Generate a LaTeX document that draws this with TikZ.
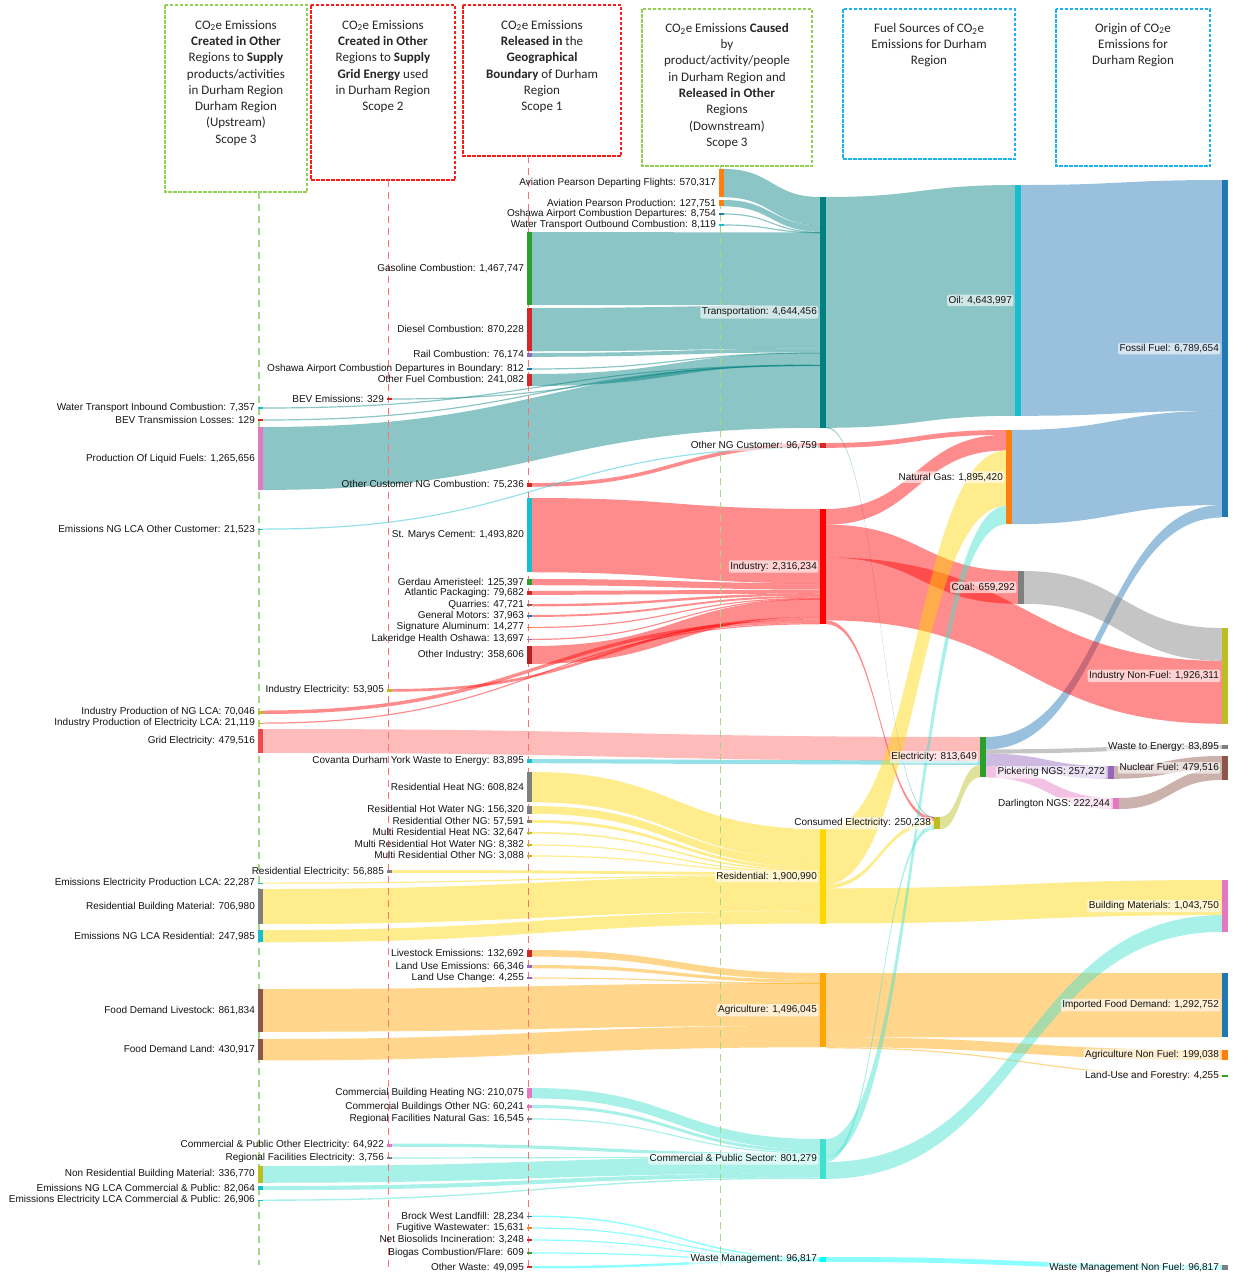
\documentclass[tikz,border=0pt]{standalone}
\usepackage{fontspec}
\setmainfont{Liberation Sans}
\newfontfamily\hdrfont{Carlito}
\definecolor{cTeal}{HTML}{008080}
\definecolor{cBlue}{HTML}{1F77B4}
\definecolor{cOrange}{HTML}{FF7F0E}
\definecolor{cGreen}{HTML}{2CA02C}
\definecolor{cRed}{HTML}{D62728}
\definecolor{cPurple}{HTML}{9467BD}
\definecolor{cBrown}{HTML}{8C564B}
\definecolor{cPink}{HTML}{E377C2}
\definecolor{cGray}{HTML}{7F7F7F}
\definecolor{cOlive}{HTML}{BCBD22}
\definecolor{cCyan}{HTML}{17BECF}
\definecolor{cInd}{HTML}{FF0000}
\definecolor{cRes}{HTML}{FFD700}
\definecolor{cAgr}{HTML}{FFA500}
\definecolor{cCom}{HTML}{40E0D0}
\definecolor{cWst}{HTML}{00FFFF}
\definecolor{cGrid}{HTML}{EF4A4A}
\definecolor{bGreen}{HTML}{92D050}
\definecolor{bRed}{HTML}{FF1A1A}
\definecolor{bBlue}{HTML}{1AB4F0}
\definecolor{dGreen}{HTML}{A6D785}
\definecolor{dRed}{HTML}{FF7070}
\newcommand\lnk[6]{\fill[#6] (#1,#2) .. controls ({(#1+#3)/2},#2) and ({(#1+#3)/2},#4) .. (#3,#4) -- (#3,{#4+#5}) .. controls ({(#1+#3)/2},{#4+#5}) and ({(#1+#3)/2},{#2+#5}) .. (#1,{#2+#5}) -- cycle;}
\newcommand\snode[7][slbl]{\node[sbar, fill=#6, minimum height=#5pt, label={[#1]left:{#7}}] (#2) at (#3,{#4+#5/2}) {};}
\begin{document}
\begin{tikzpicture}[x=1pt,y=-1pt,
  label distance=1.5pt,
  sbar/.style={rectangle, inner sep=0pt, minimum width=5.5pt, draw=none},
  slbl/.style={font=\fontsize{10}{12}\selectfont, text=black!92, inner sep=1pt},
  blbl/.style={slbl, fill=white, fill opacity=.6, text opacity=1, rounded corners=2pt, inner sep=1.5pt},
  htxt/.style={anchor=north, align=center, font=\hdrfont\fontsize{13}{16.3}\selectfont, inner sep=0pt, text=black!85},
  hbox/.style={draw=#1, line width=1.3pt, dash pattern=on 3.5pt off 1.5pt},
  vdash/.style={draw=#1, line width=1.3pt, dash pattern=on 7pt off 5pt},
  Ltr/.style={fill=cTeal, fill opacity=.45},
  Lind/.style={fill=cInd, fill opacity=.45},
  Lgrd/.style={fill=cInd, fill opacity=.27},
  Lres/.style={fill=cRes, fill opacity=.45},
  Lagr/.style={fill=cAgr, fill opacity=.45},
  Lcom/.style={fill=cCom, fill opacity=.45},
  Lwst/.style={fill=cWst, fill opacity=.45},
  Llca/.style={fill=cCyan, fill opacity=.45},
  Lff/.style={fill=cBlue, fill opacity=.45},
  Lcl/.style={fill=cGray, fill opacity=.45},
  Lolv/.style={fill=cOlive, fill opacity=.45},
  Lpur/.style={fill=cPurple, fill opacity=.45},
  Lpnk/.style={fill=cPink, fill opacity=.45},
  Lbrn/.style={fill=cBrown, fill opacity=.45}]
\fill[white] (0,0) rectangle (1233,1277);
\path[use as bounding box] (0,0) rectangle (1233,1277);

% ---------------- links ----------------
% Transportation inflows
\lnk{724}{169}{820}{197}{28.3}{Ltr}
\lnk{724}{200}{820}{225.3}{6.35}{Ltr}
\lnk{724}{213.4}{820}{231.7}{1.2}{Ltr}
\lnk{724}{224.4}{820}{232.1}{1.2}{Ltr}
\lnk{532}{232}{820}{232.5}{72.9}{Ltr}
\lnk{532}{308}{820}{305.4}{43.25}{Ltr}
\lnk{532}{353}{820}{348.6}{3.79}{Ltr}
\lnk{532}{368.4}{820}{352.4}{1.2}{Ltr}
\lnk{532}{374}{820}{352.5}{11.98}{Ltr}
\lnk{392}{398.4}{820}{364.5}{1.2}{Ltr}
\lnk{263}{407.4}{820}{364.5}{1.2}{Ltr}
\lnk{263}{419.4}{820}{364.9}{1.2}{Ltr}
\lnk{263}{427}{820}{364.9}{62.9}{Ltr}
% Transportation outflows
\lnk{826}{197}{1015}{185}{230.8}{Ltr}
\lnk{826}{427}{934}{817}{1.1}{Ltr}
% Fossil fuel
\lnk{1021}{185}{1222}{180}{230.8}{Lff}
\lnk{1012}{430}{1222}{410.8}{94.2}{Lff}
\lnk{986}{737}{1222}{505}{12.44}{Lff}
% Other NG customer
\lnk{532}{483}{820}{443}{3.74}{Lind}
\lnk{263}{528.5}{820}{446.7}{1.2}{Llca}
\lnk{826}{443}{1006}{430}{4.81}{Lind}
% Industry inflows
\lnk{532}{498}{820}{509}{74.24}{Lind}
\lnk{532}{579}{820}{583.2}{6.23}{Lind}
\lnk{532}{591}{820}{589.5}{3.96}{Lind}
\lnk{532}{604}{820}{593.4}{2.37}{Lind}
\lnk{532}{615}{820}{595.8}{1.89}{Lind}
\lnk{532}{626.8}{820}{597.7}{1.2}{Lind}
\lnk{532}{638.8}{820}{598.4}{1.2}{Lind}
\lnk{532}{646}{820}{599.1}{17.82}{Lind}
\lnk{392}{689}{820}{616.9}{2.68}{Lind}
\lnk{263}{710.5}{820}{619.6}{3.48}{Lind}
\lnk{263}{722.5}{820}{623.1}{1.2}{Lind}
% Industry outflows
\lnk{826}{509}{1006}{434.8}{15.65}{Lind}
\lnk{826}{524.7}{1018}{571}{32.77}{Lind}
\lnk{826}{557.4}{1222}{660.8}{62.97}{Lind}
\lnk{826}{620.4}{934}{817.1}{3.73}{Lind}
% Coal
\lnk{1024}{571}{1222}{628}{32.77}{Lcl}
% Electricity inflows
\lnk{263}{729}{980}{737}{23.83}{Lgrd}
\lnk{532}{759}{980}{760.8}{4.17}{Llca}
\lnk{940}{817}{980}{765}{12.44}{Lolv}
% Electricity outflows
\lnk{986}{749.4}{1222}{745}{4.17}{Lcl}
\lnk{986}{753.6}{1108}{766}{12.79}{Lpur}
\lnk{986}{766.4}{1113}{798}{11.05}{Lpnk}
\lnk{1114}{766}{1222}{756}{12.79}{Lbrn}
\lnk{1119}{798}{1222}{768.8}{11.05}{Lbrn}
% Residential inflows
\lnk{532}{772}{820}{829}{30.26}{Lres}
\lnk{532}{806}{820}{859.3}{7.77}{Lres}
\lnk{532}{820}{820}{867.1}{2.86}{Lres}
\lnk{532}{832}{820}{869.9}{1.62}{Lres}
\lnk{532}{844.4}{820}{871.5}{1.2}{Lres}
\lnk{532}{855.4}{820}{871.9}{1.2}{Lres}
\lnk{392}{870}{820}{872.1}{2.83}{Lres}
\lnk{263}{882.5}{820}{874.9}{1.2}{Lres}
\lnk{263}{889}{820}{876}{35.14}{Lres}
\lnk{263}{930}{820}{911.2}{12.32}{Lres}
% Residential outflows
\lnk{826}{829}{1006}{450.5}{55.41}{Lres}
\lnk{826}{884.4}{934}{820.8}{3.93}{Lres}
\lnk{826}{888.3}{1222}{880}{35.14}{Lres}
% Agriculture
\lnk{532}{950}{820}{973}{6.59}{Lagr}
\lnk{532}{965}{820}{979.6}{3.30}{Lagr}
\lnk{532}{977.4}{820}{982.9}{1.2}{Lagr}
\lnk{263}{989}{820}{983.1}{42.83}{Lagr}
\lnk{263}{1039}{820}{1025.9}{21.42}{Lagr}
\lnk{826}{973}{1222}{973}{64.25}{Lagr}
\lnk{826}{1037.3}{1222}{1050}{9.89}{Lagr}
\lnk{826}{1047.2}{1222}{1075.4}{1.2}{Lagr}
% Commercial
\lnk{532}{1088}{820}{1139}{10.44}{Lcom}
\lnk{532}{1105}{820}{1149.4}{2.99}{Lcom}
\lnk{532}{1118.4}{820}{1152.4}{1.2}{Lcom}
\lnk{392}{1143.5}{820}{1153.2}{3.23}{Lcom}
\lnk{392}{1157.4}{820}{1156.5}{1.2}{Lcom}
\lnk{263}{1166}{820}{1156.7}{16.74}{Lcom}
\lnk{263}{1186}{820}{1173.4}{4.08}{Lcom}
\lnk{263}{1199.5}{820}{1177.5}{1.34}{Lcom}
\lnk{826}{1139}{1006}{505.9}{18.34}{Lcom}
\lnk{826}{1157.3}{934}{824.7}{4.75}{Lcom}
\lnk{826}{1162.1}{1222}{915.1}{16.74}{Lcom}
% Waste
\lnk{532}{1215.5}{820}{1257}{1.4}{Lwst}
\lnk{532}{1227.4}{820}{1258.4}{1.2}{Lwst}
\lnk{532}{1239.4}{820}{1259.2}{1.2}{Lwst}
\lnk{532}{1252.4}{820}{1259.4}{1.2}{Lwst}
\lnk{532}{1266}{820}{1259.4}{2.44}{Lwst}
\lnk{826}{1257}{1222}{1265}{4.81}{Lwst}

% ---------------- header boxes ----------------
\draw[hbox=bGreen] (165,5) rectangle (307,192);
\draw[hbox=bRed] (311,5) rectangle (455,180);
\draw[hbox=bRed] (463,5) rectangle (621,156);
\draw[hbox=bGreen] (642,9) rectangle (812,166);
\draw[hbox=bBlue] (843,9) rectangle (1015,159);
\draw[hbox=bBlue] (1056,9) rectangle (1210,166);
\node[htxt] (h1) at (236,20) {CO\textsubscript{2}e Emissions\\\textbf{Created in Other}\\Regions to \textbf{Supply}\\products/activities\\in Durham Region\\Durham Region\\(Upstream)\\Scope 3};
\node[htxt] (h2) at (383,20) {CO\textsubscript{2}e Emissions\\\textbf{Created in Other}\\Regions to \textbf{Supply}\\\textbf{Grid Energy} used\\in Durham Region\\Scope 2};
\node[htxt] (h3) at (542,20) {CO\textsubscript{2}e Emissions\\\textbf{Released in} the\\\textbf{Geographical}\\\textbf{Boundary} of Durham\\Region\\Scope 1};
\node[htxt] (h4) at (727,23) {CO\textsubscript{2}e Emissions \textbf{Caused}\\by\\product/activity/people\\in Durham Region and\\\textbf{Released in Other}\\Regions\\(Downstream)\\Scope 3};
\node[htxt] (h5) at (929,23) {Fuel Sources of CO\textsubscript{2}e\\Emissions for Durham\\Region};
\node[htxt] (h6) at (1133,23) {Origin of CO\textsubscript{2}e\\Emissions for\\Durham Region};

% dashed guide lines
\draw[vdash=dGreen] (259,192) -- (259,1265);
\draw[vdash=dRed] (388.5,180) -- (388.5,1270);
\draw[vdash=dRed] (528.5,156) -- (528.5,1270);
\draw[vdash=dGreen] (720.5,166) -- (720.5,1265);

% ---------------- nodes ----------------
% column A
\snode{watin}{260.5}{407.4}{1.2}{cCyan}{Water Transport Inbound Combustion: 7,357}
\snode{bevtl}{260.5}{419.4}{1.2}{cRed}{BEV Transmission Losses: 129}
\snode{plf}{260.5}{427}{62.9}{cPink}{Production Of Liquid Fuels: 1,265,656}
\snode{nglcaoc}{260.5}{528.5}{1.2}{cCyan}{Emissions NG LCA Other Customer: 21,523}
\snode{ipnglca}{260.5}{710.5}{3.48}{cOlive}{Industry Production of NG LCA: 70,046}
\snode{ipelca}{260.5}{722.5}{1.2}{cOlive}{Industry Production of Electricity LCA: 21,119}
\snode{grid}{260.5}{729}{23.83}{cGrid}{Grid Electricity: 479,516}
\snode{eeplca}{260.5}{882.5}{1.2}{cCyan}{Emissions Electricity Production LCA: 22,287}
\snode{rbm}{260.5}{889}{35.14}{cGray}{Residential Building Material: 706,980}
\snode{nglcar}{260.5}{930}{12.32}{cCyan}{Emissions NG LCA Residential: 247,985}
\snode{fdl}{260.5}{989}{42.83}{cBrown}{Food Demand Livestock: 861,834}
\snode{fdland}{260.5}{1039}{21.42}{cBrown}{Food Demand Land: 430,917}
\snode{nrbm}{260.5}{1166}{16.74}{cOlive}{Non Residential Building Material: 336,770}
\snode{nglcac}{260.5}{1186}{4.08}{cCyan}{Emissions NG LCA Commercial \& Public: 82,064}
\snode{eelcac}{260.5}{1199.5}{1.34}{cCyan}{Emissions Electricity LCA Commercial \& Public: 26,906}
% column B
\snode{beve}{389.5}{398.4}{1.2}{cRed}{BEV Emissions: 329}
\snode{indel}{389.5}{689}{2.68}{cOlive}{Industry Electricity: 53,905}
\snode{resel}{389.5}{870}{2.83}{cGray}{Residential Electricity: 56,885}
\snode{cpoe}{389.5}{1143.5}{3.23}{cPink}{Commercial \& Public Other Electricity: 64,922}
\snode{rfe}{389.5}{1157.4}{1.2}{cGray}{Regional Facilities Electricity: 3,756}
% column C
\snode{gas}{529.5}{232}{72.9}{cGreen}{Gasoline Combustion: 1,467,747}
\snode{dsl}{529.5}{308}{43.25}{cRed}{Diesel Combustion: 870,228}
\snode{rail}{529.5}{353}{3.79}{cPurple}{Rail Combustion: 76,174}
\snode{oshb}{529.5}{368.4}{1.2}{cBlue}{Oshawa Airport Combustion Departures in Boundary: 812}
\snode{ofc}{529.5}{374}{11.98}{cRed}{Other Fuel Combustion: 241,082}
\snode{ocng}{529.5}{483}{3.74}{cRed}{Other Customer NG Combustion: 75,236}
\snode{smc}{529.5}{498}{74.24}{cCyan}{St. Marys Cement: 1,493,820}
\snode{gerdau}{529.5}{579}{6.23}{cGreen}{Gerdau Ameristeel: 125,397}
\snode{atl}{529.5}{591}{3.96}{cRed}{Atlantic Packaging: 79,682}
\snode{quar}{529.5}{604}{2.37}{cBrown}{Quarries: 47,721}
\snode{gm}{529.5}{615}{1.89}{cBlue}{General Motors: 37,963}
\snode{sig}{529.5}{626.8}{1.2}{cOrange}{Signature Aluminum: 14,277}
\snode{lake}{529.5}{638.8}{1.2}{cPurple}{Lakeridge Health Oshawa: 13,697}
\snode{oind}{529.5}{646}{17.82}{cRed!85!black}{Other Industry: 358,606}
\snode{cov}{529.5}{759}{4.17}{cCyan}{Covanta Durham York Waste to Energy: 83,895}
\snode{rhng}{529.5}{772}{30.26}{cGray}{Residential Heat NG: 608,824}
\snode{rhw}{529.5}{806}{7.77}{cGray}{Residential Hot Water NG: 156,320}
\snode{rong}{529.5}{820}{2.86}{cGray}{Residential Other NG: 57,591}
\snode{mrh}{529.5}{832}{1.62}{cOlive}{Multi Residential Heat NG: 32,647}
\snode{mrhw}{529.5}{844.4}{1.2}{cOlive}{Multi Residential Hot Water NG: 8,382}
\snode{mro}{529.5}{855.4}{1.2}{cOlive}{Multi Residential Other NG: 3,088}
\snode{lse}{529.5}{950}{6.59}{cRed}{Livestock Emissions: 132,692}
\snode{lue}{529.5}{965}{3.30}{cPurple}{Land Use Emissions: 66,346}
\snode{luc}{529.5}{977.4}{1.2}{cPurple}{Land Use Change: 4,255}
\snode{cbh}{529.5}{1088}{10.44}{cPink}{Commercial Building Heating NG: 210,075}
\snode{cbo}{529.5}{1105}{2.99}{cPink}{Commercial Buildings Other NG: 60,241}
\snode{rfng}{529.5}{1118.4}{1.2}{cGray}{Regional Facilities Natural Gas: 16,545}
\snode{bwl}{529.5}{1215.5}{1.4}{cBlue}{Brock West Landfill: 28,234}
\snode{fw}{529.5}{1227.4}{1.2}{cOrange}{Fugitive Wastewater: 15,631}
\snode{nbi}{529.5}{1239.4}{1.2}{cRed}{Net Biosolids Incineration: 3,248}
\snode{bcf}{529.5}{1252.4}{1.2}{cGreen}{Biogas Combustion/Flare: 609}
\snode{ow}{529.5}{1266}{2.44}{cRed}{Other Waste: 49,095}
% column D
\snode{avd}{721.5}{169}{28.3}{cOrange}{Aviation Pearson Departing Flights: 570,317}
\snode{avp}{721.5}{200}{6.35}{cOrange}{Aviation Pearson Production: 127,751}
\snode{oshd}{721.5}{213.4}{1.2}{cBlue}{Oshawa Airport Combustion Departures: 8,754}
\snode{wto}{721.5}{224.4}{1.2}{cCyan}{Water Transport Outbound Combustion: 8,119}
% column E
\snode[blbl]{trans}{823}{197}{230.8}{cTeal}{Transportation: 4,644,456}
\snode[blbl]{ongc}{823}{443}{4.81}{cRed}{Other NG Customer: 96,759}
\snode[blbl]{ind}{823}{509}{115.1}{cInd}{Industry: 2,316,234}
\snode[blbl]{res}{823}{829}{94.5}{cRes}{Residential: 1,900,990}
\snode[blbl]{agr}{823}{973}{74.4}{cAgr}{Agriculture: 1,496,045}
\snode[blbl]{com}{823}{1139}{39.8}{cCom}{Commercial \& Public Sector: 801,279}
\snode[blbl]{wm}{823}{1257}{4.81}{cWst}{Waste Management: 96,817}
% column F
\snode[blbl]{oil}{1018}{185}{230.8}{cCyan}{Oil: 4,643,997}
\snode[blbl]{ng}{1009}{430}{94.2}{cOrange}{Natural Gas: 1,895,420}
\snode[blbl]{coal}{1021}{571}{32.77}{cGray}{Coal: 659,292}
\snode[blbl]{elec}{983}{737}{40.44}{cGreen}{Electricity: 813,649}
\snode[blbl]{cel}{937}{817}{12.44}{cOlive}{Consumed Electricity: 250,238}
\snode[blbl]{pick}{1111}{766}{12.79}{cPurple}{Pickering NGS: 257,272}
\snode[blbl]{darl}{1116}{798}{11.05}{cPink}{Darlington NGS: 222,244}
% column G
\snode[blbl]{fossil}{1225}{180}{337.4}{cBlue}{Fossil Fuel: 6,789,654}
\snode[blbl]{inf}{1225}{628}{95.74}{cOlive}{Industry Non-Fuel: 1,926,311}
\snode[blbl]{wte}{1225}{745}{4.17}{cGray}{Waste to Energy: 83,895}
\snode[blbl]{nuc}{1225}{756}{23.83}{cBrown}{Nuclear Fuel: 479,516}
\snode[blbl]{bm}{1225}{880}{51.88}{cPink}{Building Materials: 1,043,750}
\snode[blbl]{ifd}{1225}{973}{64.25}{cBlue}{Imported Food Demand: 1,292,752}
\snode[blbl]{anf}{1225}{1050}{9.89}{cOrange}{Agriculture Non Fuel: 199,038}
\snode[blbl]{luf}{1225}{1075.4}{1.2}{cGreen}{Land-Use and Forestry: 4,255}
\snode[blbl]{wmnf}{1225}{1265}{4.81}{cGray}{Waste Management Non Fuel: 96,817}
\end{tikzpicture}
\end{document}
